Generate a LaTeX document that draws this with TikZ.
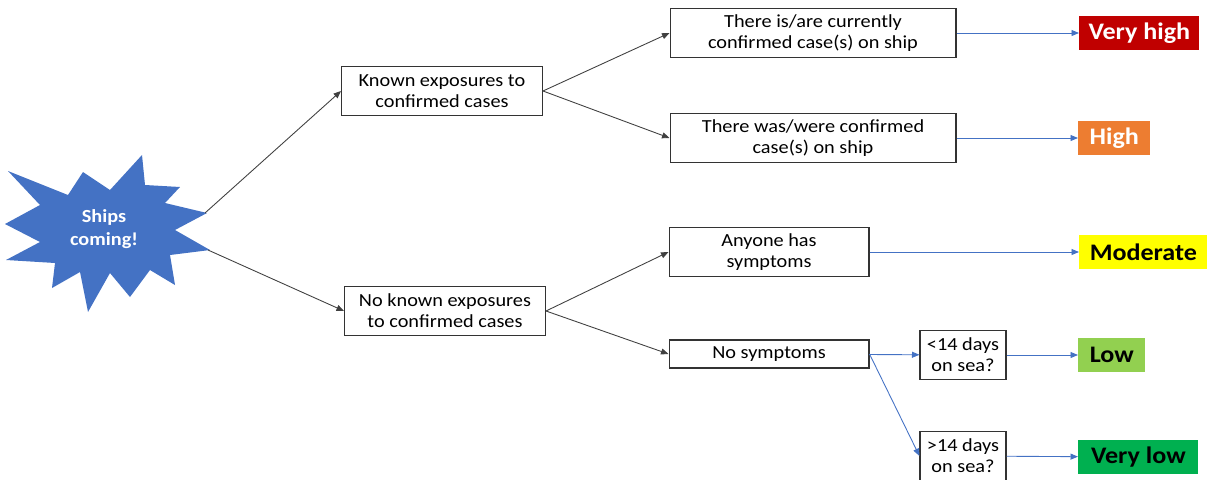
\documentclass[tikz,border=0pt]{standalone}
\usepackage{fontspec}
\setmainfont{Carlito}[FakeStretch=1.1]
\usetikzlibrary{
  arrows.meta,
  positioning
}
\definecolor{shipblue}{RGB}{68,114,196}
\definecolor{riskred}{RGB}{192,0,0}
\definecolor{riskorange}{RGB}{237,125,49}
\definecolor{riskyellow}{RGB}{255,255,0}
\definecolor{risklime}{RGB}{146,208,80}
\definecolor{riskgreen}{RGB}{0,176,80}

\begin{document}
\begin{tikzpicture}[
  x=0.02cm, y=-0.02cm,
  box/.style={
    draw=black!80,
    line width=0.6pt,
    align=center,
    font=\fontsize{10.5}{12}\selectfont,
    minimum height=0.98cm,
    inner sep=1pt
  },
  risk/.style={
    anchor=west,
    minimum height=0.69cm,
    inner sep=0pt,
    font=\fontsize{13.5}{15}\selectfont\bfseries
  },
  link/.style={-{Triangle[length=1.5mm,width=1.2mm]}, black!75, line width=0.5pt},
  bluelink/.style={-{Triangle[length=1.5mm,width=1.2mm]}, shipblue, line width=0.5pt}
]
\useasboundingbox (0,0) rectangle (1207,480);

% the burst
\fill[shipblue] (83,172) -- (110,190) -- (142,155) -- (145,185) -- (180,187)
  -- (165,203) -- (207,213) -- (175,230) -- (210,250) -- (170,255)
  -- (175,285) -- (150,270) -- (130,297) -- (110,273) -- (88,312)
  -- (80,272) -- (52,288) -- (55,263) -- (6,260) -- (40,242)
  -- (5,224) -- (40,205) -- (8,171) -- (68,195) -- cycle;
\coordinate (tipup) at (205,213);
\coordinate (tipdown) at (208,250);
\node[align=center, text=white, font=\fontsize{10.5}{13}\selectfont\bfseries] (ships) at (104,229) {Ships\\coming!};

% exposure level
\node[box, minimum width=4.02cm] (known) at (442,91) {Known exposures to\\confirmed cases};
\node[box, minimum width=4.02cm] (unknown) at (445,311) {No known exposures\\to confirmed cases};

% ship situation
\node[box, minimum width=5.72cm] (current) at (813,33) {There is/are currently\\confirmed case(s) on ship};
\node[box, minimum width=5.72cm] (past) at (813,138) {There was/were confirmed\\case(s) on ship};
\node[box, minimum width=4cm] (symp) at (769,252) {Anyone has\\symptoms};
\node[box, minimum width=4cm, minimum height=0.56cm] (nosymp) at (769,354) {No symptoms};
\node[box, minimum width=1.72cm] (short) at (963,355) {<14 days\\on sea?};
\node[box, minimum width=1.72cm] (long) at (963,456) {>14 days\\on sea?};

% risk levels
\node[risk, fill=riskred, text=white, minimum width=2.4cm] (vhigh) at (1079,33) {Very high};
\node[risk, fill=riskorange, text=white, minimum width=1.44cm] (high) at (1078,138) {High};
\node[risk, fill=riskyellow, minimum width=2.56cm] (moderate) at (1079,252) {Moderate};
\node[risk, fill=risklime, minimum width=1.34cm] (low) at (1078,355) {Low};
\node[risk, fill=riskgreen, minimum width=2.4cm] (vlow) at (1078,457) {Very low};

\draw[link] (tipup) -- (known.west);
\draw[link] (tipdown) -- (unknown.west);
\draw[link] (known.east) -- (current.west);
\draw[link] (known.east) -- (past.west);
\draw[link] (unknown.east) -- (symp.west);
\draw[link] (unknown.east) -- (nosymp.west);

\draw[bluelink] (current) -- (vhigh);
\draw[bluelink] (past) -- (high);
\draw[bluelink] (symp) -- (moderate);
\draw[bluelink] (nosymp) -- (short);
\draw[bluelink] (nosymp.east) -- (long.west);
\draw[bluelink] (short) -- (low);
\draw[bluelink] (long) -- (vlow);
\end{tikzpicture}
\end{document}
